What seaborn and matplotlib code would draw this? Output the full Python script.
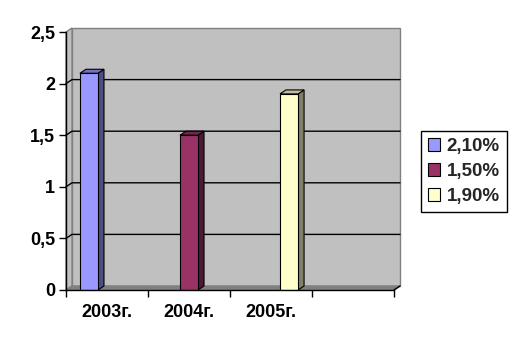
import matplotlib
matplotlib.use("Agg")
import matplotlib.pyplot as plt
import seaborn as sns
import pandas as pd
import numpy as np
from matplotlib.patches import Polygon, Rectangle, Patch

# ---- data ----
years = ["2003г.", "2004г.", "2005г.", ""]
series = ["2,10%", "1,50%", "1,90%"]
bar_years = ["2003г.", "2004г.", "2005г."]
values = [2.1, 1.5, 1.9]
yticks = [0, 0.5, 1, 1.5, 2, 2.5]
ytick_labels = ["0", "0,5", "1", "1,5", "2", "2,5"]

front_colors = ["#9999FF", "#993366", "#FFFFCC"]
top_colors = ["#7373BF", "#73264D", "#BFBF99"]
side_colors = ["#4D4D80", "#4D1A33", "#808066"]

sns.set_theme(style="white")
plt.rcParams["font.family"] = ["Liberation Sans", "DejaVu Sans"]
plt.rcParams["font.weight"] = "bold"

FS = 13
W, H = 516, 344
fig = plt.figure(figsize=(W / 100, H / 100), dpi=100)
fig.patch.set_facecolor("white")
ax = fig.add_axes([66 / W, 54 / H, 328 / W, 258 / H])
ax.set_facecolor("none")

df = pd.DataFrame({"year": bar_years, "series": series, "value": values})
sns.barplot(data=df, x="year", y="value", hue="series", order=years,
            hue_order=series, palette=front_colors, width=0.66, saturation=1,
            dodge=True, edgecolor="black", linewidth=0.8, ax=ax, zorder=5,
            legend=False)

x0, x1 = -0.5, len(years) - 0.5
ax.set_xlim(x0, x1)
ax.set_ylim(0, 2.5)

ppx = ax.bbox.width / (x1 - x0)
ppy = ax.bbox.height / 2.5
dx = 6 / ppx
dy = 4 / ppy

bars = []
for p in list(ax.patches):
    if isinstance(p, Rectangle):
        h = p.get_height()
        if np.isfinite(h) and h > 0:
            bars.append(p)
        else:
            p.set_visible(False)
bars = sorted(bars, key=lambda p: p.get_x())

# walls and floor
ax.add_patch(Rectangle((x0 + dx, dy), x1 - x0, 2.5, facecolor="#C0C0C0",
                       edgecolor="#808080", lw=1, zorder=0, clip_on=False))
ax.add_patch(Polygon([(x0, 0), (x0 + dx, dy), (x0 + dx, 2.5 + dy), (x0, 2.5)],
                     closed=True, facecolor="#C0C0C0", edgecolor="#808080",
                     lw=1, zorder=0.5, clip_on=False))
ax.add_patch(Polygon([(x0, 0), (x1, 0), (x1 + dx, dy), (x0 + dx, dy)],
                     closed=True, facecolor="#808080", edgecolor="#808080",
                     lw=1, zorder=1, clip_on=False))
for v in yticks[1:-1]:
    ax.plot([x0, x0 + dx, x1 + dx], [v, v + dy, v + dy], color="black",
            lw=1, zorder=2, clip_on=False)
ax.plot([x1, x1 + dx], [0, dy], color="black", lw=1, zorder=6, clip_on=False)

# 3D bar faces
for i, b in enumerate(bars):
    x, w, h = b.get_x(), b.get_width(), b.get_height()
    ci = i % len(side_colors)
    ax.add_patch(Polygon([(x + w, 0), (x + w + dx, dy), (x + w + dx, h + dy), (x + w, h)],
                         closed=True, facecolor=side_colors[ci], edgecolor="black",
                         lw=0.8, zorder=4.9, clip_on=False))
    ax.add_patch(Polygon([(x, h), (x + w, h), (x + w + dx, h + dy), (x + dx, h + dy)],
                         closed=True, facecolor=top_colors[ci], edgecolor="black",
                         lw=0.8, zorder=4.9, clip_on=False))

# axes styling
for s in ["top", "right"]:
    ax.spines[s].set_visible(False)
for s in ["left", "bottom"]:
    ax.spines[s].set_color("black")
    ax.spines[s].set_linewidth(1)
    ax.spines[s].set_zorder(7)

ax.set_yticks(yticks)
ax.set_yticklabels(ytick_labels)
ax.set_xticks(range(len(years)))
ax.set_xticklabels(years)
ax.set_xticks([x0 + k for k in range(len(years) + 1)], minor=True)
ax.tick_params(axis="y", direction="out", length=5, width=1, color="black",
               labelsize=FS, pad=3, left=True)
ax.tick_params(axis="x", which="major", length=0, labelsize=FS, pad=10)
ax.tick_params(axis="x", which="minor", direction="out", length=5, width=1,
               color="black", bottom=True)
for t in ax.get_xticklabels() + ax.get_yticklabels():
    t.set_fontweight("bold")
    t.set_color("black")
ax.set_xlabel("")
ax.set_ylabel("")

handles = [Patch(facecolor=c, edgecolor="black", linewidth=0.8) for c in front_colors]
leg = ax.legend(handles, series, loc="center", bbox_to_anchor=(464 / W, 1 - 171.5 / H),
                bbox_transform=fig.transFigure, frameon=True, fancybox=False,
                edgecolor="black", framealpha=1, prop={"weight": "bold", "size": FS + 0.5},
                handlelength=0.65, handleheight=0.65, handletextpad=0.35,
                labelspacing=0.42, borderpad=0.4, borderaxespad=0)
leg.get_frame().set_linewidth(1)

fig.savefig("out.png", dpi=100, facecolor="white")
